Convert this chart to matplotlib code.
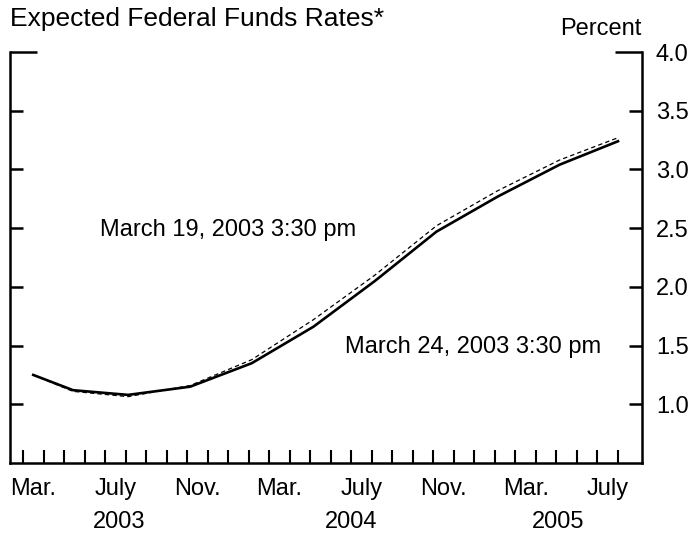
import numpy as np
import matplotlib.pyplot as plt
import matplotlib.transforms as mtransforms
from matplotlib.ticker import FixedLocator, FixedFormatter, NullFormatter

plt.rcParams['font.family'] = ['Liberation Sans', 'DejaVu Sans']

# x = months after March 1, 2003
months = [0.5, 2.44, 5.12, 8.15, 11.15, 14.15, 17.15, 20.15, 23.15, 26.15, 29.0]
rate_mar19 = [1.25, 1.11, 1.065, 1.16, 1.38, 1.72, 2.10, 2.52, 2.82, 3.08, 3.27]
rate_mar24 = [1.25, 1.12, 1.08, 1.15, 1.35, 1.66, 2.05, 2.47, 2.77, 3.04, 3.24]

month_names = ['Mar.', 'July', 'Nov.', 'Mar.', 'July', 'Nov.', 'Mar.', 'July']
month_index = [0, 4, 8, 12, 16, 20, 24, 28]
years = ['2003', '2004', '2005']
year_start = [-2, 10, 22]   # January of each year
year_end = [10, 22, 34]

y_ticks = [1.0, 1.5, 2.0, 2.5, 3.0, 3.5]
y_top = 4.0
fs = 17

fig = plt.figure(figsize=(6.94, 5.35), dpi=100)
ax = fig.add_axes([10 / 694, 1 - 463 / 535, 632 / 694, 411 / 535])

ax.plot(months, rate_mar24, color='black', lw=1.9, solid_joinstyle='round')
ax.plot(months, rate_mar19, color='black', lw=0.9, linestyle=(0, (3.5, 2.5)))

x0, x1 = -0.634, 30.17
ax.set_xlim(x0, x1)
ax.set_ylim(0.5, y_top)

for s in ['left', 'right', 'bottom']:
    ax.spines[s].set_linewidth(1.8)
ax.spines['top'].set_visible(False)

# x axis: ticks at month boundaries, labels at month middles
ax.xaxis.set_major_locator(FixedLocator(np.arange(0, 30)))
ax.xaxis.set_major_formatter(NullFormatter())
ax.xaxis.set_minor_locator(FixedLocator([m + 0.5 for m in month_index]))
ax.xaxis.set_minor_formatter(FixedFormatter(month_names))
ax.tick_params(axis='x', which='major', direction='in', length=9.5, width=1.5)
ax.tick_params(axis='x', which='minor', length=0, pad=11, labelsize=fs)

# y axis: ticks on both sides, labels on right
ax.yaxis.set_major_locator(FixedLocator(y_ticks))
ax.yaxis.set_major_formatter(FixedFormatter(['%.1f' % v for v in y_ticks]))
ax.yaxis.set_minor_locator(FixedLocator([y_top]))
ax.yaxis.set_minor_formatter(FixedFormatter(['%.1f' % y_top]))
ax.tick_params(axis='y', which='both', direction='in', left=True, right=True,
               labelleft=False, labelright=True, width=1.8, pad=10, labelsize=fs)
ax.tick_params(axis='y', which='major', length=9.5)
ax.tick_params(axis='y', which='minor', length=19.5)

trans = mtransforms.blended_transform_factory(ax.transData, ax.transAxes)
for name, a, b in zip(years, year_start, year_end):
    c = (max(a, x0) + min(b, x1)) / 2
    ax.text(c, -0.143, name, transform=trans, ha='center', va='center', fontsize=fs)

fig.text(10 / 694, 1 - 19 / 535, 'Expected Federal Funds Rates*', ha='left', va='center', fontsize=19)
fig.text(642 / 694, 1 - 29 / 535, 'Percent', ha='right', va='center', fontsize=fs)

ax.text(3.75, 2.48, 'March 19, 2003 3:30 pm', ha='left', va='center', fontsize=fs)
ax.text(15.7, 1.49, 'March 24, 2003 3:30 pm', ha='left', va='center', fontsize=fs)

fig.savefig('out.png', dpi=100)
